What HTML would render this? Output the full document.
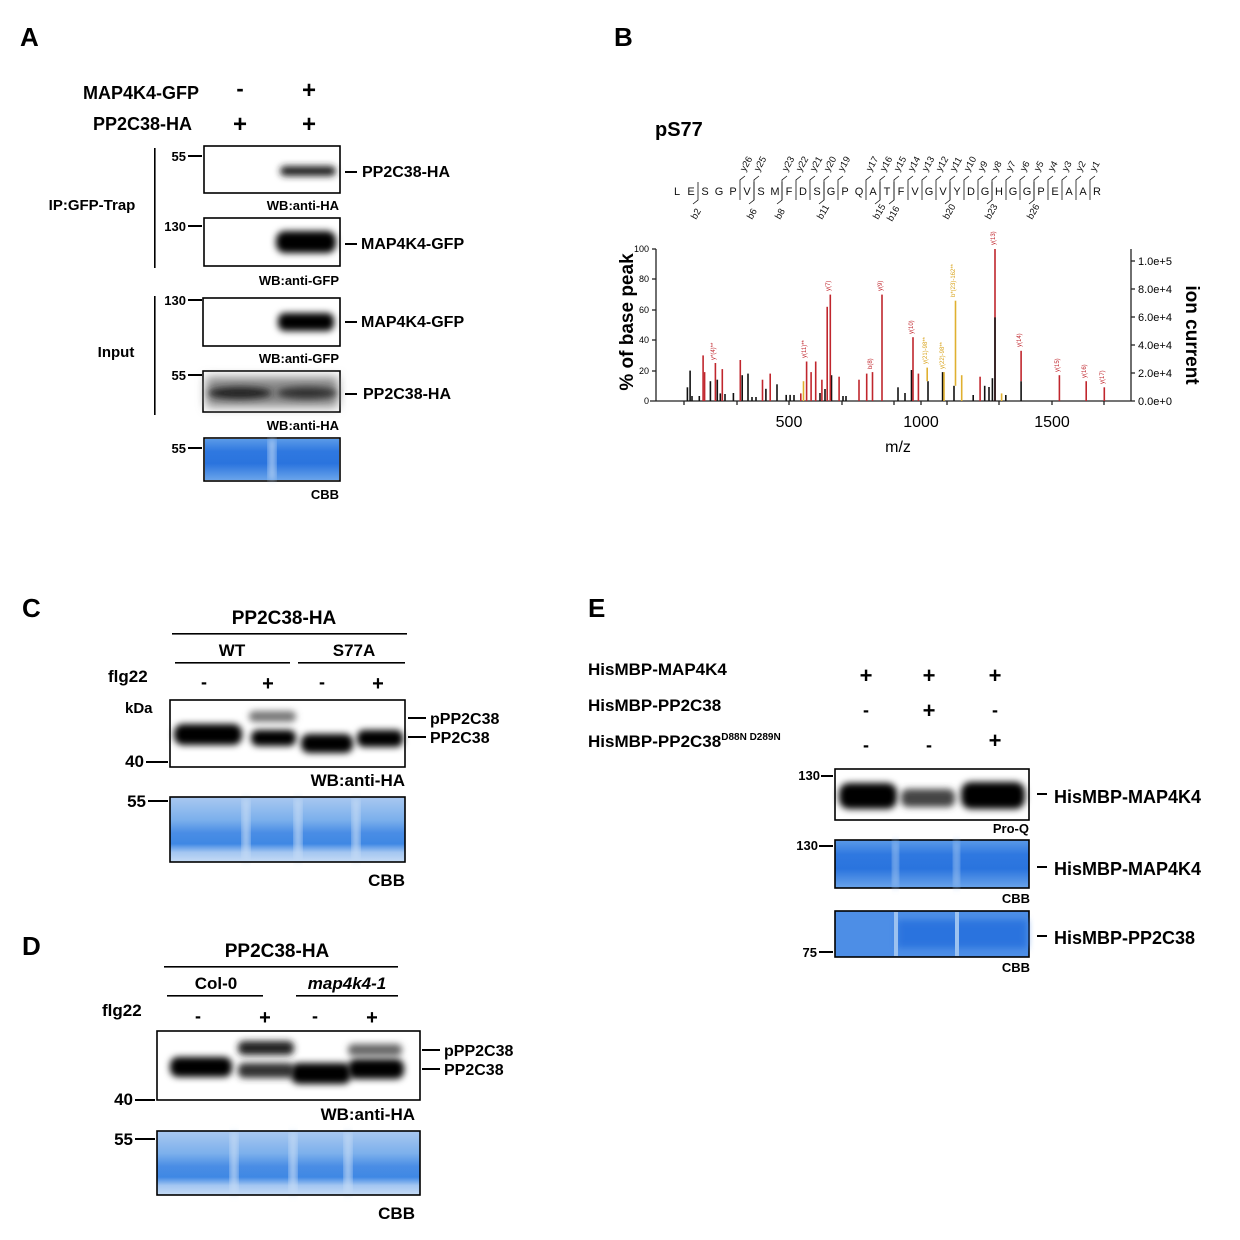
<!DOCTYPE html>
<html><head><meta charset="utf-8">
<style>
html,body{margin:0;padding:0;background:#fff;}
svg{display:block;}
text{font-family:"Liberation Sans",Arial,sans-serif;}
.b{font-weight:bold;}
</style></head>
<body>
<svg width="1240" height="1240" viewBox="0 0 1240 1240" xmlns="http://www.w3.org/2000/svg">
<defs>
<filter id="bl" x="-30%" y="-80%" width="160%" height="260%"><feGaussianBlur stdDeviation="3.5"/></filter>
<filter id="bl2" x="-20%" y="-50%" width="140%" height="200%"><feGaussianBlur stdDeviation="5"/></filter>
<linearGradient id="cbb" x1="0" y1="0" x2="0" y2="1">
<stop offset="0" stop-color="#5a9ae8"/><stop offset="0.3" stop-color="#2f78e0"/><stop offset="0.6" stop-color="#2a74de"/><stop offset="1" stop-color="#6aa4ea"/></linearGradient>
<linearGradient id="cbbL" x1="0" y1="0" x2="0" y2="1">
<stop offset="0" stop-color="#a9c8f0"/><stop offset="0.35" stop-color="#7cb0ec"/><stop offset="0.55" stop-color="#4a8de5"/><stop offset="0.72" stop-color="#3f88e4"/><stop offset="0.85" stop-color="#a3c6f1"/><stop offset="1" stop-color="#c6dbf5"/></linearGradient>
</defs>
<g fill="#000">
<text x="20" y="46" class="b" font-size="26">A</text>
<text x="614" y="46" class="b" font-size="26">B</text>
<text x="22" y="617" class="b" font-size="26">C</text>
<text x="22" y="955" class="b" font-size="26">D</text>
<text x="588" y="617" class="b" font-size="26">E</text>

<!-- ===== Panel A ===== -->
<text x="199" y="99" class="b" font-size="18" text-anchor="end">MAP4K4-GFP</text>
<text x="192" y="130" class="b" font-size="18" text-anchor="end">PP2C38-HA</text>
<text x="240" y="96" class="b" font-size="22" text-anchor="middle">-</text>
<text x="309" y="98" class="b" font-size="24" text-anchor="middle">+</text>
<text x="240" y="132" class="b" font-size="24" text-anchor="middle">+</text>
<text x="309" y="132" class="b" font-size="24" text-anchor="middle">+</text>
<text x="92" y="210" class="b" font-size="15" text-anchor="middle">IP:GFP-Trap</text>
<text x="116" y="357" class="b" font-size="15" text-anchor="middle">Input</text>
<rect x="154" y="148" width="1.6" height="120"/>
<rect x="154" y="296" width="1.6" height="119"/>
<g fill="none" stroke="#000" stroke-width="1.6">
<rect x="204" y="146" width="136" height="47"/>
<rect x="204" y="218" width="136" height="48"/>
<rect x="203" y="298" width="137" height="48"/>
<rect x="203" y="371" width="137" height="41"/>
<rect x="204" y="438" width="136" height="43"/>
</g>
<rect x="280" y="166" width="56" height="10" rx="5" fill="#222" filter="url(#bl)"/>
<rect x="276" y="231" width="60" height="22" rx="9" filter="url(#bl)"/>
<rect x="278" y="313" width="56" height="18" rx="7" filter="url(#bl)"/>
<rect x="206" y="377" width="132" height="30" fill="#888" filter="url(#bl2)"/>
<ellipse cx="240" cy="393" rx="32" ry="6" fill="#222" filter="url(#bl)"/>
<ellipse cx="307" cy="393" rx="30" ry="6" fill="#333" filter="url(#bl)"/>
<rect x="205" y="439" width="134" height="41" fill="url(#cbb)"/>
<rect x="269" y="439" width="6" height="41" fill="#b9d4f4" filter="url(#bl)"/>
<g font-size="13" class="b" text-anchor="end">
<text x="186" y="161">55</text><rect x="188" y="155" width="14" height="2"/>
<text x="186" y="231">130</text><rect x="188" y="225" width="14" height="2"/>
<text x="186" y="305">130</text><rect x="188" y="299" width="14" height="2"/>
<text x="186" y="380">55</text><rect x="188" y="374" width="14" height="2"/>
<text x="186" y="453">55</text><rect x="188" y="447" width="14" height="2"/>
</g>
<g font-size="13" class="b" text-anchor="end">
<text x="339" y="210">WB:anti-HA</text>
<text x="339" y="285">WB:anti-GFP</text>
<text x="339" y="363">WB:anti-GFP</text>
<text x="339" y="430">WB:anti-HA</text>
<text x="339" y="499">CBB</text>
</g>
<g font-size="16" class="b">
<rect x="345" y="171" width="12" height="2"/><text x="362" y="177">PP2C38-HA</text>
<rect x="345" y="243" width="12" height="2"/><text x="361" y="249">MAP4K4-GFP</text>
<rect x="345" y="321" width="12" height="2"/><text x="361" y="327">MAP4K4-GFP</text>
<rect x="345" y="393" width="12" height="2"/><text x="363" y="399">PP2C38-HA</text>
</g>

<!-- ===== Panel B ===== -->
<text x="655" y="136" class="b" font-size="20">pS77</text>
<g font-size="11" text-anchor="middle" fill="#111">
<text x="677" y="195">L</text><text x="691" y="195">E</text><text x="705" y="195">S</text><text x="719" y="195">G</text><text x="733" y="195">P</text><text x="747" y="195">V</text><text x="761" y="195">S</text><text x="775" y="195">M</text><text x="789" y="195">F</text><text x="803" y="195">D</text><text x="817" y="195">S</text><text x="831" y="195">G</text><text x="845" y="195">P</text><text x="859" y="195">Q</text><text x="873" y="195">A</text><text x="887" y="195">T</text><text x="901" y="195">F</text><text x="915" y="195">V</text><text x="929" y="195">G</text><text x="943" y="195">V</text><text x="957" y="195">Y</text><text x="971" y="195">D</text><text x="985" y="195">G</text><text x="999" y="195">H</text><text x="1013" y="195">G</text><text x="1027" y="195">G</text><text x="1041" y="195">P</text><text x="1055" y="195">E</text><text x="1069" y="195">A</text><text x="1083" y="195">A</text><text x="1097" y="195">R</text>
</g>
<g stroke="#111" stroke-width="0.8" fill="none">
<path d="M740 200V180l5-4 M754 200V180l5-4 M782 200V180l5-4 M796 200V180l5-4 M810 200V180l5-4 M824 200V180l5-4 M838 200V180l5-4 M866 200V180l5-4 M880 200V180l5-4 M894 200V180l5-4 M908 200V180l5-4 M922 200V180l5-4 M936 200V180l5-4 M950 200V180l5-4 M964 200V180l5-4 M978 200V180l5-4 M992 200V180l5-4 M1006 200V180l5-4 M1020 200V180l5-4 M1034 200V180l5-4 M1048 200V180l5-4 M1062 200V180l5-4 M1076 200V180l5-4 M1090 200V180l5-4"/>
<path d="M698 182V200l-5 4 M754 182V200l-5 4 M782 182V200l-5 4 M824 182V200l-5 4 M880 182V200l-5 4 M894 182V200l-5 4 M950 182V200l-5 4 M992 182V200l-5 4 M1034 182V200l-5 4"/>
</g>
<g font-size="9.5" fill="#111">
<text transform="translate(745,172) rotate(-60)">y26</text><text transform="translate(759,172) rotate(-60)">y25</text>
<text transform="translate(787,172) rotate(-60)">y23</text><text transform="translate(801,172) rotate(-60)">y22</text><text transform="translate(815,172) rotate(-60)">y21</text><text transform="translate(829,172) rotate(-60)">y20</text><text transform="translate(843,172) rotate(-60)">y19</text>
<text transform="translate(871,172) rotate(-60)">y17</text><text transform="translate(885,172) rotate(-60)">y16</text><text transform="translate(899,172) rotate(-60)">y15</text><text transform="translate(913,172) rotate(-60)">y14</text><text transform="translate(927,172) rotate(-60)">y13</text><text transform="translate(941,172) rotate(-60)">y12</text><text transform="translate(955,172) rotate(-60)">y11</text><text transform="translate(969,172) rotate(-60)">y10</text><text transform="translate(983,172) rotate(-60)">y9</text><text transform="translate(997,172) rotate(-60)">y8</text><text transform="translate(1011,172) rotate(-60)">y7</text><text transform="translate(1025,172) rotate(-60)">y6</text><text transform="translate(1039,172) rotate(-60)">y5</text><text transform="translate(1053,172) rotate(-60)">y4</text><text transform="translate(1067,172) rotate(-60)">y3</text><text transform="translate(1081,172) rotate(-60)">y2</text><text transform="translate(1095,172) rotate(-60)">y1</text>
<text transform="translate(696,220) rotate(-60)">b2</text><text transform="translate(752,220) rotate(-60)">b6</text><text transform="translate(780,220) rotate(-60)">b8</text><text transform="translate(822,220) rotate(-60)">b11</text><text transform="translate(878,220) rotate(-60)">b15</text><text transform="translate(892,222) rotate(-60)">b16</text><text transform="translate(948,220) rotate(-60)">b20</text><text transform="translate(990,220) rotate(-60)">b23</text><text transform="translate(1032,220) rotate(-60)">b26</text>
</g>
<g stroke="#222" stroke-width="1.3">
<line x1="656" y1="249" x2="656" y2="401"/>
<line x1="650" y1="401" x2="1131" y2="401"/>
<line x1="1131" y1="249" x2="1131" y2="401"/>
<line x1="652" y1="249" x2="656" y2="249"/><line x1="652" y1="279" x2="656" y2="279"/><line x1="652" y1="310" x2="656" y2="310"/><line x1="652" y1="340" x2="656" y2="340"/><line x1="652" y1="371" x2="656" y2="371"/>
<line x1="1131" y1="261" x2="1135" y2="261"/><line x1="1131" y1="289" x2="1135" y2="289"/><line x1="1131" y1="317" x2="1135" y2="317"/><line x1="1131" y1="345" x2="1135" y2="345"/><line x1="1131" y1="373" x2="1135" y2="373"/><line x1="1131" y1="401" x2="1135" y2="401"/>
<line x1="684" y1="401" x2="684" y2="405"/><line x1="737" y1="401" x2="737" y2="405"/><line x1="789" y1="401" x2="789" y2="405"/><line x1="842" y1="401" x2="842" y2="405"/><line x1="894" y1="401" x2="894" y2="405"/><line x1="921" y1="401" x2="921" y2="405"/><line x1="947" y1="401" x2="947" y2="405"/><line x1="999" y1="401" x2="999" y2="405"/><line x1="1052" y1="401" x2="1052" y2="405"/><line x1="1104" y1="401" x2="1104" y2="405"/>
</g>
<g font-size="9" text-anchor="end">
<text x="649" y="252">100</text><text x="649" y="282">80</text><text x="649" y="313">60</text><text x="649" y="343">40</text><text x="649" y="374">20</text><text x="649" y="404">0</text>
</g>
<g font-size="11">
<text x="1138" y="265">1.0e+5</text><text x="1138" y="293">8.0e+4</text><text x="1138" y="321">6.0e+4</text><text x="1138" y="349">4.0e+4</text><text x="1138" y="377">2.0e+4</text><text x="1138" y="405">0.0e+0</text>
</g>
<g font-size="16" text-anchor="middle">
<text x="789" y="427">500</text><text x="921" y="427">1000</text><text x="1052" y="427">1500</text>
<text x="898" y="452">m/z</text>
</g>
<text transform="translate(633,322) rotate(-90)" class="b" font-size="19" text-anchor="middle">% of base peak</text>
<text transform="translate(1186,335) rotate(90)" class="b" font-size="19" text-anchor="middle">ion current</text>
<g stroke-width="1.6">
<g stroke="#111">
<line x1="687.4" y1="401" x2="687.4" y2="387.3"/><line x1="690.1" y1="401" x2="690.1" y2="370.6"/><line x1="692" y1="401" x2="692" y2="396"/><line x1="699.3" y1="401" x2="699.3" y2="396"/>
<line x1="710.4" y1="401" x2="710.4" y2="381.2"/><line x1="717.3" y1="401" x2="717.3" y2="379.7"/><line x1="720.3" y1="401" x2="720.3" y2="393.4"/><line x1="725" y1="401" x2="725" y2="394"/>
<line x1="733.4" y1="401" x2="733.4" y2="393"/><line x1="742.2" y1="401" x2="742.2" y2="375.2"/><line x1="748" y1="401" x2="748" y2="373.6"/><line x1="752" y1="401" x2="752" y2="397"/><line x1="756" y1="401" x2="756" y2="397"/>
<line x1="765.9" y1="401" x2="765.9" y2="388.8"/><line x1="777" y1="401" x2="777" y2="384.3"/><line x1="786.2" y1="401" x2="786.2" y2="394.9"/><line x1="790.1" y1="401" x2="790.1" y2="394.9"/><line x1="794" y1="401" x2="794" y2="395"/>
<line x1="820" y1="401" x2="820" y2="393"/><line x1="825" y1="401" x2="825" y2="389"/><line x1="831.5" y1="401" x2="831.5" y2="375.2"/><line x1="846" y1="401" x2="846" y2="396"/><line x1="843" y1="401" x2="843" y2="396"/>
<line x1="898" y1="401" x2="898" y2="387.3"/><line x1="905" y1="401" x2="905" y2="393"/><line x1="911.5" y1="401" x2="911.5" y2="370"/><line x1="928" y1="401" x2="928" y2="381.2"/><line x1="942.6" y1="401" x2="942.6" y2="372.1"/><line x1="954" y1="401" x2="954" y2="385.8"/>
<line x1="973.2" y1="401" x2="973.2" y2="395"/><line x1="984.7" y1="401" x2="984.7" y2="385.8"/><line x1="989" y1="401" x2="989" y2="387"/><line x1="992.4" y1="401" x2="992.4" y2="378.2"/><line x1="1005.8" y1="401" x2="1005.8" y2="395"/><line x1="1021.1" y1="401" x2="1021.1" y2="381.2"/>
</g>
<g stroke="#c0262d">
<line x1="703.1" y1="401" x2="703.1" y2="355.4"/><line x1="704.6" y1="401" x2="704.6" y2="372.1"/><line x1="715.4" y1="401" x2="715.4" y2="363"/><line x1="722.3" y1="401" x2="722.3" y2="369.1"/>
<line x1="740.3" y1="401" x2="740.3" y2="360"/><line x1="762.5" y1="401" x2="762.5" y2="379.7"/><line x1="770.2" y1="401" x2="770.2" y2="373.6"/><line x1="800.8" y1="401" x2="800.8" y2="393.4"/>
<line x1="806.6" y1="401" x2="806.6" y2="361.5"/><line x1="811.1" y1="401" x2="811.1" y2="372.1"/><line x1="815.7" y1="401" x2="815.7" y2="361.5"/><line x1="821.9" y1="401" x2="821.9" y2="379.7"/>
<line x1="827.2" y1="401" x2="827.2" y2="306.8"/><line x1="830.3" y1="401" x2="830.3" y2="294.6"/><line x1="839.1" y1="401" x2="839.1" y2="376.7"/>
<line x1="859" y1="401" x2="859" y2="379.7"/><line x1="866.7" y1="401" x2="866.7" y2="373.6"/><line x1="872.5" y1="401" x2="872.5" y2="372.1"/><line x1="882" y1="401" x2="882" y2="294.6"/>
<line x1="913" y1="401" x2="913" y2="337.2"/><line x1="918.4" y1="401" x2="918.4" y2="373.6"/><line x1="980.1" y1="401" x2="980.1" y2="376.7"/>
<line x1="995" y1="401" x2="995" y2="249"/><line x1="1021.1" y1="381.2" x2="1021.1" y2="350.8"/><line x1="1059.4" y1="401" x2="1059.4" y2="375.2"/><line x1="1086.2" y1="401" x2="1086.2" y2="381.2"/><line x1="1104.3" y1="401" x2="1104.3" y2="387.3"/>
</g>
<g stroke="#e0b030">
<line x1="803.5" y1="401" x2="803.5" y2="381.2"/><line x1="927.2" y1="381.2" x2="927.2" y2="367.6"/><line x1="944" y1="401" x2="944" y2="372.1"/><line x1="955.5" y1="385.8" x2="955.5" y2="300.7"/><line x1="961.7" y1="401" x2="961.7" y2="375.2"/><line x1="1001.6" y1="401" x2="1001.6" y2="393.4"/>
</g>
<line x1="995" y1="401" x2="995" y2="317.4" stroke="#111"/>
</g>
<g font-size="6" fill="#c0262d">
<text transform="translate(995,245) rotate(-90)">y(13)</text><text transform="translate(882,291) rotate(-90)">y(9)</text><text transform="translate(830,291) rotate(-90)">y(7)</text><text transform="translate(913,334) rotate(-90)">y(10)</text><text transform="translate(1021,347) rotate(-90)">y(14)</text><text transform="translate(1059,372) rotate(-90)">y(15)</text><text transform="translate(1086,378) rotate(-90)">y(16)</text><text transform="translate(1104,384) rotate(-90)">y(17)</text><text transform="translate(806,358) rotate(-90)">y(11)**</text><text transform="translate(715,360) rotate(-90)">y*(4)**</text><text transform="translate(872,369) rotate(-90)">b(8)</text>
</g>
<g font-size="6" fill="#d9a520"><text transform="translate(955,297) rotate(-90)">b*(23)-162**</text><text transform="translate(927,364) rotate(-90)">y(21)-98**</text><text transform="translate(944,369) rotate(-90)">y(22)-98**</text></g>

<!-- ===== Panel C ===== -->
<text x="284" y="624" class="b" font-size="19" text-anchor="middle">PP2C38-HA</text>
<rect x="172" y="633" width="235" height="1.6"/>
<text x="232" y="656" class="b" font-size="17" text-anchor="middle">WT</text>
<text x="354" y="656" class="b" font-size="17" text-anchor="middle">S77A</text>
<rect x="175" y="662" width="115" height="1.6"/><rect x="298" y="662" width="107" height="1.6"/>
<text x="108" y="682" class="b" font-size="17">flg22</text>
<text x="204" y="688" class="b" font-size="18" text-anchor="middle">-</text><text x="268" y="690" class="b" font-size="20" text-anchor="middle">+</text>
<text x="322" y="688" class="b" font-size="18" text-anchor="middle">-</text><text x="378" y="690" class="b" font-size="20" text-anchor="middle">+</text>
<text x="125" y="713" class="b" font-size="15">kDa</text>
<rect x="170" y="700" width="235" height="67" fill="none" stroke="#000" stroke-width="1.6"/>
<rect x="174" y="724" width="68" height="21" rx="9" filter="url(#bl)"/>
<rect x="251" y="730" width="45" height="16" rx="7" filter="url(#bl)"/>
<rect x="249" y="711" width="47" height="11" rx="5" fill="#777" filter="url(#bl)"/>
<rect x="301" y="734" width="52" height="19" rx="8" filter="url(#bl)"/>
<rect x="357" y="730" width="46" height="17" rx="7" filter="url(#bl)"/>
<text x="144" y="767" class="b" font-size="17" text-anchor="end">40</text><rect x="146" y="761" width="22" height="2"/>
<rect x="408" y="717" width="18" height="2"/><text x="430" y="724" class="b" font-size="16">pPP2C38</text>
<rect x="408" y="736" width="18" height="2"/><text x="430" y="743" class="b" font-size="16">PP2C38</text>
<text x="405" y="786" class="b" font-size="17" text-anchor="end">WB:anti-HA</text>
<text x="146" y="807" class="b" font-size="17" text-anchor="end">55</text><rect x="148" y="800" width="20" height="2"/>
<rect x="170" y="797" width="235" height="65" fill="url(#cbbL)"/>
<rect x="243" y="798" width="6" height="63" fill="#c6dbf5" filter="url(#bl)"/>
<rect x="295" y="798" width="6" height="63" fill="#c6dbf5" filter="url(#bl)"/>
<rect x="353" y="798" width="6" height="63" fill="#c6dbf5" filter="url(#bl)"/>
<rect x="170" y="797" width="235" height="65" fill="none" stroke="#000" stroke-width="1.6"/>
<text x="405" y="886" class="b" font-size="17" text-anchor="end">CBB</text>

<!-- ===== Panel D ===== -->
<text x="277" y="957" class="b" font-size="19" text-anchor="middle">PP2C38-HA</text>
<rect x="164" y="966" width="234" height="1.6"/>
<text x="216" y="989" class="b" font-size="17" text-anchor="middle">Col-0</text>
<text x="347" y="989" class="b" font-size="17" font-style="italic" text-anchor="middle">map4k4-1</text>
<rect x="167" y="995" width="96" height="1.6"/><rect x="296" y="995" width="102" height="1.6"/>
<text x="102" y="1016" class="b" font-size="17">flg22</text>
<text x="198" y="1022" class="b" font-size="18" text-anchor="middle">-</text><text x="265" y="1024" class="b" font-size="20" text-anchor="middle">+</text>
<text x="315" y="1022" class="b" font-size="18" text-anchor="middle">-</text><text x="372" y="1024" class="b" font-size="20" text-anchor="middle">+</text>
<rect x="157" y="1031" width="263" height="69" fill="none" stroke="#000" stroke-width="1.6"/>
<rect x="170" y="1057" width="62" height="20" rx="8" filter="url(#bl)"/>
<rect x="238" y="1041" width="56" height="14" rx="6" fill="#222" filter="url(#bl)"/>
<rect x="238" y="1063" width="56" height="15" rx="6" fill="#333" filter="url(#bl)"/>
<rect x="291" y="1063" width="60" height="21" rx="8" filter="url(#bl)"/>
<rect x="348" y="1044" width="54" height="12" rx="5" fill="#666" filter="url(#bl)"/>
<rect x="348" y="1059" width="56" height="20" rx="8" filter="url(#bl)"/>
<text x="133" y="1105" class="b" font-size="17" text-anchor="end">40</text><rect x="135" y="1099" width="20" height="2"/>
<rect x="422" y="1049" width="18" height="2"/><text x="444" y="1056" class="b" font-size="16">pPP2C38</text>
<rect x="422" y="1068" width="18" height="2"/><text x="444" y="1075" class="b" font-size="16">PP2C38</text>
<text x="415" y="1120" class="b" font-size="17" text-anchor="end">WB:anti-HA</text>
<text x="133" y="1145" class="b" font-size="17" text-anchor="end">55</text><rect x="135" y="1138" width="20" height="2"/>
<rect x="157" y="1131" width="263" height="64" fill="url(#cbbL)"/>
<rect x="231" y="1132" width="6" height="62" fill="#c6dbf5" filter="url(#bl)"/>
<rect x="290" y="1132" width="6" height="62" fill="#c6dbf5" filter="url(#bl)"/>
<rect x="345" y="1132" width="6" height="62" fill="#c6dbf5" filter="url(#bl)"/>
<rect x="157" y="1131" width="263" height="64" fill="none" stroke="#000" stroke-width="1.6"/>
<text x="415" y="1219" class="b" font-size="17" text-anchor="end">CBB</text>

<!-- ===== Panel E ===== -->
<text x="588" y="675" class="b" font-size="17">HisMBP-MAP4K4</text>
<text x="588" y="711" class="b" font-size="17">HisMBP-PP2C38</text>
<text x="588" y="747" class="b" font-size="17">HisMBP-PP2C38<tspan font-size="10" dy="-7">D88N D289N</tspan></text>
<g class="b" text-anchor="middle">
<text x="866" y="683" font-size="22">+</text><text x="929" y="683" font-size="22">+</text><text x="995" y="683" font-size="22">+</text>
<text x="866" y="716" font-size="18">-</text><text x="929" y="718" font-size="22">+</text><text x="995" y="716" font-size="18">-</text>
<text x="866" y="751" font-size="18">-</text><text x="929" y="751" font-size="18">-</text><text x="995" y="748" font-size="22">+</text>
</g>
<rect x="835" y="769" width="194" height="51" fill="none" stroke="#000" stroke-width="1.6"/>
<rect x="839" y="783" width="58" height="26" rx="10" filter="url(#bl)"/>
<rect x="901" y="789" width="54" height="18" rx="7" fill="#444" filter="url(#bl)"/>
<rect x="961" y="782" width="64" height="27" rx="10" filter="url(#bl)"/>
<text x="820" y="780" class="b" font-size="13" text-anchor="end">130</text><rect x="821" y="775" width="12" height="2"/>
<rect x="1037" y="793" width="10" height="2"/><text x="1054" y="803" class="b" font-size="18">HisMBP-MAP4K4</text>
<text x="1029" y="833" class="b" font-size="13" text-anchor="end">Pro-Q</text>
<rect x="835" y="840" width="194" height="48" fill="url(#cbb)" stroke="#000" stroke-width="1.6"/>
<rect x="893" y="841" width="5" height="46" fill="#9cc2f0" filter="url(#bl)"/><rect x="954" y="841" width="5" height="46" fill="#9cc2f0" filter="url(#bl)"/>
<text x="818" y="850" class="b" font-size="13" text-anchor="end">130</text><rect x="819" y="845" width="14" height="2"/>
<rect x="1037" y="866" width="10" height="2"/><text x="1054" y="875" class="b" font-size="18">HisMBP-MAP4K4</text>
<text x="1030" y="903" class="b" font-size="13" text-anchor="end">CBB</text>
<rect x="835" y="911" width="194" height="46" fill="#4d8ee6" stroke="#000" stroke-width="1.6"/>
<rect x="897" y="920" width="130" height="28" fill="#2a73de" filter="url(#bl)"/>
<rect x="894" y="912" width="4" height="44" fill="#9cc2f0"/><rect x="955" y="912" width="4" height="44" fill="#9cc2f0"/>
<text x="817" y="957" class="b" font-size="13" text-anchor="end">75</text><rect x="819" y="951" width="14" height="2"/>
<rect x="1037" y="935" width="10" height="2"/><text x="1054" y="944" class="b" font-size="18">HisMBP-PP2C38</text>
<text x="1030" y="972" class="b" font-size="13" text-anchor="end">CBB</text>
</g>
</svg>
</body></html>
